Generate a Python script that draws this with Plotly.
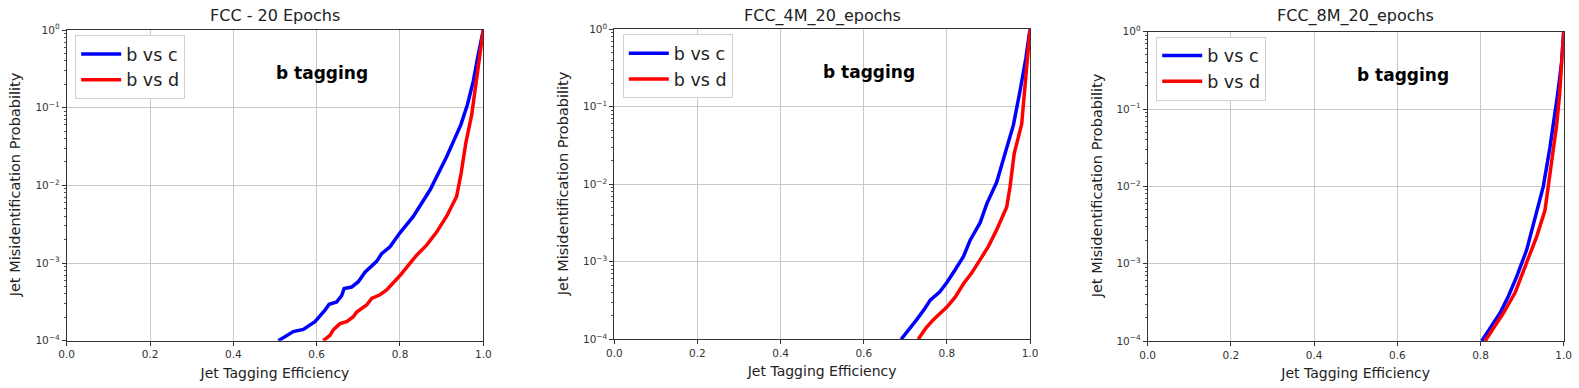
import plotly.graph_objects as go

titles = ["FCC - 20 Epochs", "FCC_4M_20_epochs", "FCC_8M_20_epochs"]
series_names = ["b vs c", "b vs d"]

# Panel 1
p1_bc_x = [0.508, 0.544, 0.568, 0.596, 0.62, 0.63, 0.648, 0.66, 0.666, 0.684, 0.70, 0.716, 0.744, 0.756, 0.776, 0.792, 0.80, 0.832, 0.872, 0.912, 0.946, 0.962, 0.976, 0.986, 0.994, 1.0]
p1_bc_y = [1.0e-4, 1.31e-4, 1.40e-4, 1.76e-4, 2.48e-4, 2.95e-4, 3.16e-4, 3.8e-4, 4.7e-4, 4.9e-4, 5.75e-4, 7.6e-4, 1.05e-3, 1.32e-3, 1.62e-3, 2.19e-3, 2.45e-3, 3.98e-3, 8.7e-3, 2.34e-2, 6.0e-2, 0.11, 0.22, 0.43, 0.71, 1.0]
p1_bd_x = [0.616, 0.632, 0.64, 0.656, 0.672, 0.688, 0.696, 0.72, 0.732, 0.752, 0.768, 0.784, 0.80, 0.82, 0.84, 0.864, 0.888, 0.912, 0.936, 0.947, 0.958, 0.972, 0.980, 0.990, 0.997, 1.0]
p1_bd_y = [1.0e-4, 1.17e-4, 1.38e-4, 1.66e-4, 1.76e-4, 2.04e-4, 2.34e-4, 2.88e-4, 3.5e-4, 3.9e-4, 4.5e-4, 5.5e-4, 6.9e-4, 9.3e-4, 1.26e-3, 1.70e-3, 2.5e-3, 4.0e-3, 7.2e-3, 1.45e-2, 3.5e-2, 8.0e-2, 0.17, 0.42, 0.80, 1.0]

# Panel 2
p2_bc_x = [0.690, 0.711, 0.727, 0.747, 0.76, 0.783, 0.80, 0.82, 0.84, 0.856, 0.88, 0.896, 0.92, 0.94, 0.96, 0.976, 0.990, 1.0]
p2_bc_y = [1.0e-4, 1.38e-4, 1.78e-4, 2.5e-4, 3.2e-4, 4.1e-4, 5.4e-4, 7.9e-4, 1.17e-3, 1.9e-3, 3.2e-3, 5.6e-3, 1.07e-2, 2.5e-2, 5.8e-2, 0.16, 0.42, 1.0]
p2_bd_x = [0.731, 0.75, 0.767, 0.80, 0.82, 0.84, 0.86, 0.88, 0.90, 0.92, 0.944, 0.952, 0.962, 0.980, 0.988, 0.994, 1.0]
p2_bd_y = [1.0e-4, 1.41e-4, 1.78e-4, 2.6e-4, 3.5e-4, 5.2e-4, 7.2e-4, 1.05e-3, 1.58e-3, 2.6e-3, 5.1e-3, 9.3e-3, 2.5e-2, 6.0e-2, 0.2, 0.42, 1.0]

# Panel 3
p3_bc_x = [0.803, 0.825, 0.847, 0.867, 0.887, 0.911, 0.935, 0.951, 0.967, 0.975, 0.985, 0.995, 1.0]
p3_bc_y = [1.0e-4, 1.51e-4, 2.3e-4, 3.8e-4, 6.8e-4, 1.51e-3, 4.5e-3, 1.0e-2, 3.2e-2, 6.2e-2, 0.15, 0.40, 1.0]
p3_bd_x = [0.811, 0.833, 0.855, 0.883, 0.911, 0.935, 0.955, 0.963, 0.975, 0.983, 0.990, 0.996, 1.0]
p3_bd_y = [1.0e-4, 1.51e-4, 2.3e-4, 4.2e-4, 1.0e-3, 2.24e-3, 4.9e-3, 1.0e-2, 3.2e-2, 6.2e-2, 0.15, 0.45, 1.0]

x_ticks = [0.0, 0.2, 0.4, 0.6, 0.8, 1.0]
x_ticklabels = ["0.0", "0.2", "0.4", "0.6", "0.8", "1.0"]
y_ticks = [1e-4, 1e-3, 1e-2, 1e-1, 1e0]
y_ticklabels = ["10<sup>−4</sup>", "10<sup>−3</sup>", "10<sup>−2</sup>", "10<sup>−1</sup>", "10<sup>0</sup>"]
y_minor = [m * d for d in [1e-4, 1e-3, 1e-2, 1e-1] for m in range(2, 10)]

panels = [
    (p1_bc_x, p1_bc_y, p1_bd_x, p1_bd_y),
    (p2_bc_x, p2_bc_y, p2_bd_x, p2_bd_y),
    (p3_bc_x, p3_bc_y, p3_bd_x, p3_bd_y),
]

W, H = 1579, 388
x_dom_px = [(66.7, 483.3), (614.3, 1030.0), (1147.7, 1563.7)]
y_dom_px = [(30.0, 340.7), (29.3, 339.3), (31.7, 341.0)]
ytitle_px = [15, 563, 1097]

FONT = "DejaVu Sans"
fig = go.Figure()
colors = ["#0000ff", "#ff0000"]

for i, (bcx, bcy, bdx, bdy) in enumerate(panels):
    sfx = "" if i == 0 else str(i + 1)
    leg = "legend" if i == 0 else f"legend{i+1}"
    for j, (xs, ys) in enumerate([(bcx, bcy), (bdx, bdy)]):
        fig.add_trace(go.Scatter(
            x=xs, y=ys, mode="lines", name=series_names[j],
            line=dict(color=colors[j], width=3.5),
            xaxis="x" + sfx, yaxis="y" + sfx, legend=leg,
        ))
    x0, x1 = x_dom_px[i]
    yt, yb = y_dom_px[i]
    common = dict(showline=True, linecolor="#333333", linewidth=1, mirror=True,
                  showgrid=True, gridcolor="#c8c8c8", gridwidth=1, zeroline=False,
                  ticks="outside", ticklen=4, tickcolor="#333333",
                  tickfont=dict(family=FONT, size=10.5, color="#333333"), automargin=False)
    fig.layout["xaxis" + sfx] = dict(
        domain=[x0 / W, x1 / W], range=[0, 1], anchor="y" + sfx,
        tickvals=x_ticks, ticktext=x_ticklabels,
        title=dict(text="Jet Tagging Efficiency", font=dict(family=FONT, size=14, color="#222222"), standoff=8),
        **common)
    fig.layout["yaxis" + sfx] = dict(
        domain=[1 - yb / H, 1 - yt / H], type="log", range=[-4, 0], anchor="x" + sfx,
        tickvals=y_ticks, ticktext=y_ticklabels,
        minor=dict(tickvals=y_minor, ticks="outside", ticklen=2, tickcolor="#555555", showgrid=False),
        **common)
    # y title
    fig.add_annotation(text="Jet Misidentification Probability", xref="paper", yref="paper",
                       x=ytitle_px[i] / W, y=1 - (yt + yb) / 2 / H, textangle=-90,
                       showarrow=False, font=dict(family=FONT, size=14.5, color="#222222"),
                       xanchor="center", yanchor="middle")
    # panel title
    fig.add_annotation(text=titles[i], xref="paper", yref="paper",
                       x=(x0 + x1) / 2 / W, y=1 - 16 / H, showarrow=False,
                       font=dict(family=FONT, size=16, color="#222222"),
                       xanchor="center", yanchor="middle")
    # b tagging
    fig.add_annotation(text="<b>b tagging</b>", xref="x" + sfx, yref="y" + sfx,
                       x=0.613, y=-0.557, showarrow=False,
                       font=dict(family=FONT, size=17, color="black"),
                       xanchor="center", yanchor="middle")
    fig.layout[leg] = dict(
        x=(x0 + 8.5) / W, y=1 - (yt + 5) / H, xanchor="left", yanchor="top",
        bgcolor="white", bordercolor="#d0d0d0", borderwidth=1,
        font=dict(family=FONT, size=17.5, color="#222222"),
        itemwidth=40, tracegroupgap=0,
    )

fig.update_layout(
    width=W, height=H, margin=dict(l=0, r=0, t=0, b=0),
    paper_bgcolor="white", plot_bgcolor="white", showlegend=True,
)

fig.write_html("out.html")
